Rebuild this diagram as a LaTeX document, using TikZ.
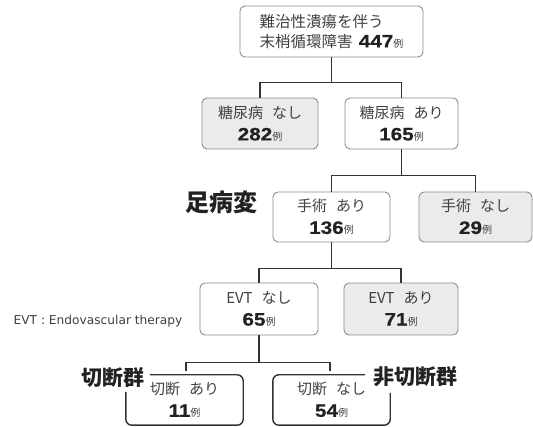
\documentclass[tikz,border=0pt]{standalone}
\usepackage{fontspec}
\setmainfont{Noto Sans CJK JP}
\newfontfamily\numfont{Liberation Sans}[FakeStretch=1.15,FakeBold=0.6]
\newfontfamily\evtfont{DejaVu Sans}
\usetikzlibrary{calc}
\definecolor{txtc}{HTML}{404040}
\definecolor{numc}{HTML}{222222}
\definecolor{boxc}{HTML}{8C8C8C}
\definecolor{linec}{HTML}{333333}
\definecolor{fillc}{HTML}{EBEBEB}
\newcommand{\cnt}[1]{{\numfont\bfseries\fontsize{18}{20}\selectfont\color{numc}#1}{\fontsize{10}{12}\selectfont\color{txtc}例}}
\tikzset{
  box/.style={draw=boxc, line width=0.9pt, rounded corners=5pt, align=center,
    text=txtc, font=\fontsize{15}{22}\selectfont, inner sep=0pt},
  grey/.style={fill=fillc},
  openbox/.style={align=center, text=txtc, font=\fontsize{15}{22}\selectfont, inner sep=0pt},
  conn/.style={draw=linec, line width=1.3pt},
  bord/.style={draw=linec, line width=1.4pt, rounded corners=6pt},
  biglabel/.style={font=\fontsize{21}{24}\selectfont\bfseries, text=numc, inner sep=0pt}
}
\begin{document}
\begin{tikzpicture}[x=1pt,y=-1pt]
\useasboundingbox (0,0) rectangle (533,427);
% boxes
\node[box, align=left, minimum width=183pt, minimum height=51pt,
  font=\fontsize{15.5}{20}\selectfont] (top) at (331.5,31.5)
  {難治性潰瘍を伴う\\末梢循環障害\hspace{0.4em}\cnt{447}};
\node[box, grey, minimum width=116pt, minimum height=51pt] (dmn) at (260,123.5)
  {糖尿病\hspace{0.6em}なし\\\cnt{282}};
\node[box, minimum width=113pt, minimum height=51pt] (dmy) at (401.5,123.5)
  {糖尿病\hspace{0.6em}あり\\\cnt{165}};
\node[box, minimum width=117pt, minimum height=50pt] (opy) at (331.5,217)
  {手術\hspace{0.6em}あり\\\cnt{136}};
\node[box, grey, minimum width=113pt, minimum height=50pt] (opn) at (475.5,217)
  {手術\hspace{0.6em}なし\\\cnt{29}};
\node[box, minimum width=118pt, minimum height=52pt] (evn) at (259,309)
  {EVT\hspace{0.6em}なし\\\cnt{65}};
\node[box, grey, minimum width=114pt, minimum height=52pt] (evy) at (401,309)
  {EVT\hspace{0.6em}あり\\\cnt{71}};
\node[openbox, minimum width=117pt, minimum height=50pt] (amy) at (184.5,400)
  {切断\hspace{0.6em}あり\\\cnt{11}};
\node[openbox, minimum width=117pt, minimum height=50pt] (amn) at (331.5,400)
  {切断\hspace{0.6em}なし\\\cnt{54}};
% open borders of the bottom boxes
\draw[bord] ($(amy.north west)+(24,0)$) -- (amy.north east) -- (amy.south east)
  -- (amy.south west) -- ($(amy.north west)+(0,17)$);
\draw[bord] ($(amn.north east)+(-25,0)$) -- (amn.north west) -- (amn.south west)
  -- (amn.south east) -- ($(amn.north east)+(0,18)$);
% labels
\node[biglabel, font=\fontsize{24}{26}\selectfont\bfseries] (foot) at (221.5,202) {足病変};
\node[biglabel, anchor=east] (grpA) at (145,378) {切断群};
\node[biglabel, anchor=west] (grpB) at (373,377) {非切断群};
\node[text=txtc, font=\evtfont\fontsize{12.2}{14}\selectfont, inner sep=0pt] (evtnote) at (98,321)
  {EVT : Endovascular therapy};
% connectors
\draw[conn] (top.south) -- ++(0,25) -| (dmn.north);
\draw[conn] (top.south) -- ++(0,25) -| (dmy.north);
\draw[conn] (dmy.south) -- ++(0,26) -| (opy.north);
\draw[conn] (dmy.south) -- ++(0,26) -| (opn.north);
\draw[conn] (opy.south) -- ++(0,26) -| (evn.north);
\draw[conn] (opy.south) -- ++(0,26) -| (evy.north);
\draw[conn] (evn.south) -- ++(0,27) -| ($(amy.north)+(1.5,-4)$);
\draw[conn] (evn.south) -- ++(0,27) -| ($(amn.north)+(-1.5,-4)$);
\end{tikzpicture}
\end{document}
